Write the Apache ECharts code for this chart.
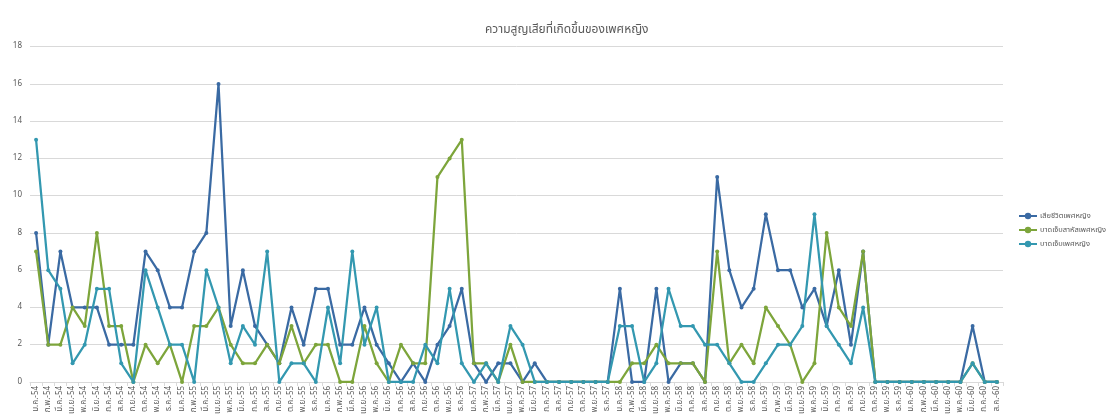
<!DOCTYPE html>
<html>
<head>
<meta charset="utf-8">
<script src="https://cdn.jsdelivr.net/npm/echarts@6/dist/echarts.min.js"></script>
<style>
  html, body { margin: 0; padding: 0; background: #fff; }
  #chart { width: 1112px; height: 417px; }
</style>
</head>
<body>
<div id="chart"></div>
<script>
// ชื่อเดือนและปี (พ.ศ.) สำหรับแกน X
const months = ['ม.ค.', 'ก.พ.', 'มี.ค.', 'เม.ย.', 'พ.ค.', 'มิ.ย.', 'ก.ค.', 'ส.ค.', 'ก.ย.', 'ต.ค.', 'พ.ย.', 'ธ.ค.'];
const years = ['54', '55', '56', '57', '58', '59', '60'];
const yTicks = [0, 2, 4, 6, 8, 10, 12, 14, 16, 18];

// ค่าของแต่ละชุดข้อมูล (ม.ค.-54 ถึง ส.ค.-60)
const deaths = [8, 2, 7, 4, 4, 4, 2, 2, 2, 7, 6, 4,
  4, 7, 8, 16, 3, 6, 3, 2, 1, 4, 2, 5,
  5, 2, 2, 4, 2, 1, 0, 1, 0, 2, 3, 5,
  1, 0, 1, 1, 0, 1, 0, 0, 0, 0, 0, 0,
  5, 0, 0, 5, 0, 1, 1, 0, 11, 6, 4, 5,
  9, 6, 6, 4, 5, 3, 6, 2, 7, 0, 0, 0,
  0, 0, 0, 0, 0, 3, 0, 0];
const serious = [7, 2, 2, 4, 3, 8, 3, 3, 0, 2, 1, 2,
  0, 3, 3, 4, 2, 1, 1, 2, 1, 3, 1, 2,
  2, 0, 0, 3, 1, 0, 2, 1, 1, 11, 12, 13,
  1, 1, 0, 2, 0, 0, 0, 0, 0, 0, 0, 0,
  0, 1, 1, 2, 1, 1, 1, 0, 7, 1, 2, 1,
  4, 3, 2, 0, 1, 8, 4, 3, 7, 0, 0, 0,
  0, 0, 0, 0, 0, 1, 0, 0];
const injured = [13, 6, 5, 1, 2, 5, 5, 1, 0, 6, 4, 2,
  2, 0, 6, 4, 1, 3, 2, 7, 0, 1, 1, 0,
  4, 1, 7, 2, 4, 0, 0, 0, 2, 1, 5, 1,
  0, 1, 0, 3, 2, 0, 0, 0, 0, 0, 0, 0,
  3, 3, 0, 1, 5, 3, 3, 2, 2, 1, 0, 0,
  1, 2, 2, 3, 9, 3, 2, 1, 4, 0, 0, 0,
  0, 0, 0, 0, 0, 1, 0, 0];

const seriesNames = ['เสียชีวิตเพศหญิง', 'บาดเจ็บสาหัสเพศหญิง', 'บาดเจ็บเพศหญิง'];
const seriesColors = ['#3a6aa3', '#7da53b', '#3398b0'];

// สร้างป้ายเดือน-ปี ให้ยาวเท่ากับข้อมูล
const categories = [];
years.forEach(y => months.forEach(m => categories.push(m + '-' + y)));
categories.length = deaths.length;

const thaiFont = '"Noto Sans Thai", "Tahoma", "Noto Sans", "DejaVu Sans", sans-serif';

const chart = echarts.init(document.getElementById('chart'));

const makeSeries = (name, data, color) => ({
  name: name,
  type: 'line',
  data: data,
  symbol: 'circle',
  symbolSize: 4,
  showSymbol: true,
  itemStyle: { color: color },
  lineStyle: { color: color, width: 2.25 },
  animation: false
});

const option = {
  backgroundColor: '#fff',
  textStyle: { fontFamily: thaiFont },
  title: {
    text: 'ความสูญเสียที่เกิดขึ้นของเพศหญิง',
    left: 480,
    top: 20,
    textStyle: { fontSize: 12, fontWeight: 'normal', color: '#595959', fontFamily: thaiFont }
  },
  legend: {
    orient: 'vertical',
    left: 1013,
    top: 207,
    itemGap: 6,
    itemWidth: 18,
    itemHeight: 8,
    textStyle: { fontSize: 7.5, color: '#595959', fontFamily: thaiFont, padding: [0, 0, 0, -2] },
    data: seriesNames
  },
  grid: {
    left: 30,
    right: 109,
    top: 46.7,
    bottom: 35,
    containLabel: false
  },
  xAxis: {
    type: 'category',
    data: categories,
    boundaryGap: true,
    axisLine: { lineStyle: { color: '#d9d9d9', width: 1 } },
    axisTick: { show: true, length: 4, lineStyle: { color: '#d9d9d9' } },
    axisLabel: {
      interval: 0,
      rotate: 90,
      fontSize: 8,
      margin: 4,
      color: '#595959',
      fontFamily: thaiFont
    }
  },
  yAxis: {
    type: 'value',
    min: yTicks[0],
    max: yTicks[yTicks.length - 1],
    interval: 2,
    axisLine: { show: false },
    axisTick: { show: false },
    axisLabel: { fontSize: 8, color: '#595959', margin: 8 },
    splitLine: { lineStyle: { color: '#d9d9d9', width: 1 } }
  },
  series: [
    makeSeries(seriesNames[0], deaths, seriesColors[0]),
    makeSeries(seriesNames[1], serious, seriesColors[1]),
    makeSeries(seriesNames[2], injured, seriesColors[2])
  ]
};

chart.setOption(option);
</script>
</body>
</html>
